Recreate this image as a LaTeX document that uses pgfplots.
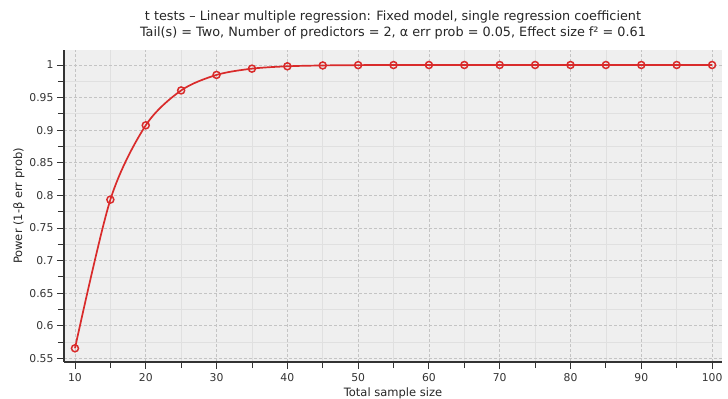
\documentclass[border=0pt]{standalone}
\usepackage{fontspec}
\setmainfont{DejaVu Sans}
\usepackage{pgfplots}
\pgfplotsset{compat=1.18}
\definecolor{bgc}{HTML}{EFEFEF}
\definecolor{redc}{HTML}{D92B2B}
\definecolor{gridmaj}{HTML}{C4C4C4}
\definecolor{gridmin}{HTML}{E0E0E0}
\definecolor{axc}{HTML}{333333}
\begin{document}
\begin{tikzpicture}
\path[use as bounding box] (0,0) rectangle (728bp,399bp);
\begin{axis}[
  at={(64bp,37bp)}, anchor=south west,
  scale only axis, width=658bp, height=312bp,
  xmin=8.45, xmax=101.4, ymin=0.5445, ymax=1.023,
  axis x line*=bottom, axis y line*=left,
  axis line style={-, axc, line width=1.1bp},
  axis background/.style={fill=bgc},
  xtick={10,20,30,40,50,60,70,80,90,100},
  minor xtick={15,25,35,45,55,65,75,85,95},
  ytick={0.55,0.6,0.65,0.7,0.75,0.8,0.85,0.9,0.95,1},
  yticklabels={0.55,0.6,0.65,0.7,0.75,0.8,0.85,0.9,0.95,1},
  minor ytick={0.575,0.625,0.675,0.725,0.775,0.825,0.875,0.925,0.975},
  grid=both,
  major grid style={gridmaj, dash pattern=on 3bp off 2bp, line width=0.8bp},
  minor grid style={gridmin, line width=0.8bp},
  tick align=outside, major tick length=7bp, minor tick length=6bp,
  tick style={axc, line width=0.9bp},
  /pgf/number format/assume math mode=true,
  tick label style={font=\fontsize{10.8bp}{12bp}\selectfont, text=black!80},
  xticklabel style={yshift=-1bp},
  xlabel={Total sample size},
  ylabel={Power (1-β err prob)},
  label style={font=\fontsize{11.5bp}{13bp}\selectfont, text=black!85},
  xlabel style={yshift=1bp},
  ylabel style={yshift=-2bp},
  title={t tests – Linear multiple regression: Fixed model, single regression coefficient\\Tail(s) = Two, Number of predictors = 2, α err prob = 0.05, Effect size f² = 0.61},
  title style={align=center, font=\fontsize{12.8bp}{16bp}\selectfont, text=black!85, yshift=1bp},
]
\addplot[redc, line width=1.7bp, smooth, mark=o,
  mark options={fill=white, line width=1.5bp}, mark size=3.5bp]
coordinates {
(10,0.5655) (15,0.7935) (20,0.9075) (25,0.9610) (30,0.9848) (35,0.9944)
(40,0.9980) (45,0.9993) (50,0.9998) (55,0.99993) (60,0.99998) (65,1.0)
(70,1.0) (75,1.0) (80,1.0) (85,1.0) (90,1.0) (95,1.0) (100,1.0)
};
\end{axis}
\end{tikzpicture}
\end{document}
